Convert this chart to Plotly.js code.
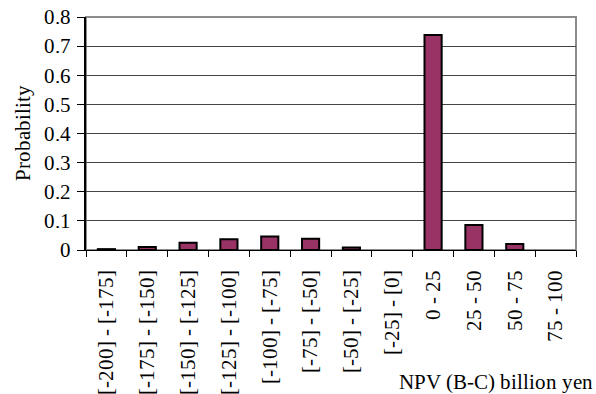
<!DOCTYPE html>
<html>
<head>
<meta charset="utf-8">
<script src="https://cdn.plot.ly/plotly-3.0.1.min.js"></script>
<style>
  @font-face {
    font-family: 'NpvSerif';
    src: local('Liberation Serif'), local('LiberationSerif'), local('Times New Roman');
  }
  html, body { margin: 0; padding: 0; background: #fff; }
</style>
</head>
<body>
<div id="chart" style="width:596px;height:394px"></div>
<script>
// NPV ranges (billion yen) and the probability of each range
const npvRanges = [
  "[-200] - [-175]", "[-175] - [-150]", "[-150] - [-125]", "[-125] - [-100]",
  "[-100] - [-75]", "[-75] - [-50]", "[-50] - [-25]", "[-25] - [0]",
  "0 - 25", "25 - 50", "50 - 75", "75 - 100"
];
const probability = [0.003, 0.01, 0.025, 0.037, 0.046, 0.039, 0.009, 0, 0.738, 0.086, 0.021, 0];
const yTicks = [0, 0.1, 0.2, 0.3, 0.4, 0.5, 0.6, 0.7, 0.8];
const yTickText = ["0", "0.1", "0.2", "0.3", "0.4", "0.5", "0.6", "0.7", "0.8"];

// every label is set in the same serif face
const labelFont = () => ({ family: "NpvSerif", size: 21, color: "black" });

// empty ranges get no outline so nothing is drawn for them
const outlineWidths = probability.map(v => (v > 0 ? 2 : 0));

const trace = {
  type: "bar",
  x: npvRanges,
  y: probability,
  marker: { color: "#993366", line: { color: "#000", width: outlineWidths } },
  hoverinfo: "x+y"
};

const layout = {
  width: 596,
  height: 394,
  margin: { l: 86, r: 20, t: 17, b: 144 },
  paper_bgcolor: "#fff",
  plot_bgcolor: "#fff",
  bargap: 0.58,
  showlegend: false,
  xaxis: {
    type: "category",
    tickangle: -90,
    tickson: "boundaries",
    ticks: "outside",
    ticklen: 6,
    tickcolor: "#000",
    showline: true,
    linecolor: "#000",
    linewidth: 1,
    showgrid: false,
    tickfont: labelFont(),
    ticklabelstandoff: 11,
    automargin: false
  },
  yaxis: {
    range: [0, 0.8],
    tickvals: yTicks,
    ticktext: yTickText,
    ticks: "outside",
    ticklen: 7,
    tickcolor: "#000",
    showline: true,
    linecolor: "#000",
    linewidth: 1.5,
    showgrid: true,
    gridcolor: "#444",
    gridwidth: 1,
    zeroline: false,
    tickfont: labelFont(),
    ticklabelstandoff: 2,
    title: { text: "Probability", font: labelFont(), standoff: 8 },
    automargin: false
  },
  shapes: [{
    type: "rect", xref: "paper", yref: "paper",
    x0: 0, x1: 1, y0: 0, y1: 1,
    line: { color: "#8c8c8c", width: 2 },
    layer: "below"
  }],
  annotations: [{
    text: "NPV (B-C) billion yen",
    xref: "paper", yref: "paper",
    x: 1.039, y: -0.565,
    xanchor: "right", yanchor: "middle",
    showarrow: false,
    font: labelFont()
  }]
};

Plotly.newPlot("chart", [trace], layout, { displayModeBar: false });
</script>
</body>
</html>
